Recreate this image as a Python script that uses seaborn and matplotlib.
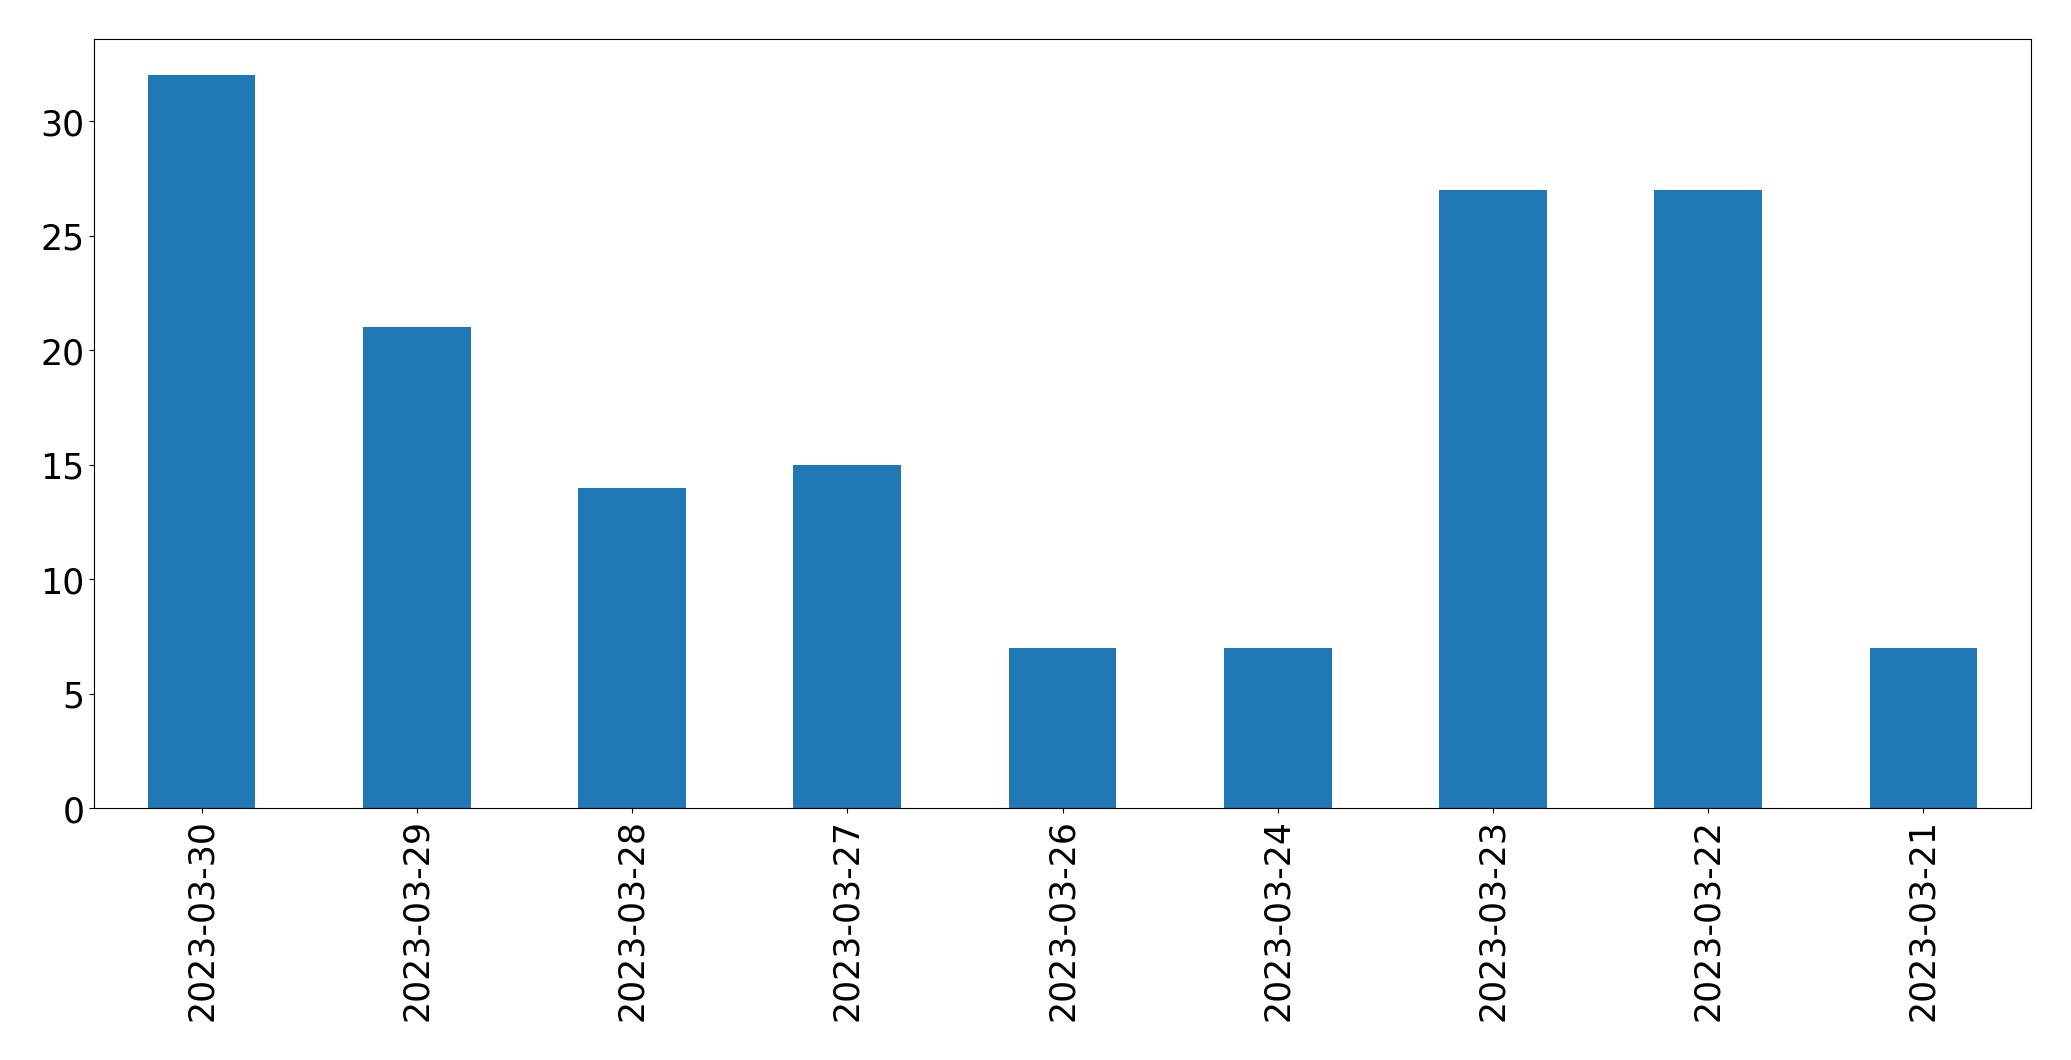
import matplotlib
matplotlib.use("Agg")
import matplotlib.pyplot as plt
import seaborn as sns
import pandas as pd

dates = ["2023-03-30", "2023-03-29", "2023-03-28", "2023-03-27", "2023-03-26",
         "2023-03-24", "2023-03-23", "2023-03-22", "2023-03-21"]
counts = [32, 21, 14, 15, 7, 7, 27, 27, 7]

df = pd.DataFrame({"date": dates, "count": counts})

fig = plt.figure(figsize=(20.71, 10.605), dpi=100)
ax = fig.add_axes([0.0454, 0.2372, 0.9807 - 0.0454, 0.963 - 0.2372])
sns.barplot(data=df, x="date", y="count", order=dates, color="#1f77b4",
            saturation=1, width=0.5, ax=ax)
ax.set_xlim(-0.5, len(dates) - 0.5)
ax.set_ylim(0, max(counts) * 1.05)
ax.set_xlabel("")
ax.set_ylabel("")
ax.tick_params(axis="both", labelsize=25)
ax.tick_params(axis="x", labelrotation=90)
fig.savefig("out.png", dpi=100)
